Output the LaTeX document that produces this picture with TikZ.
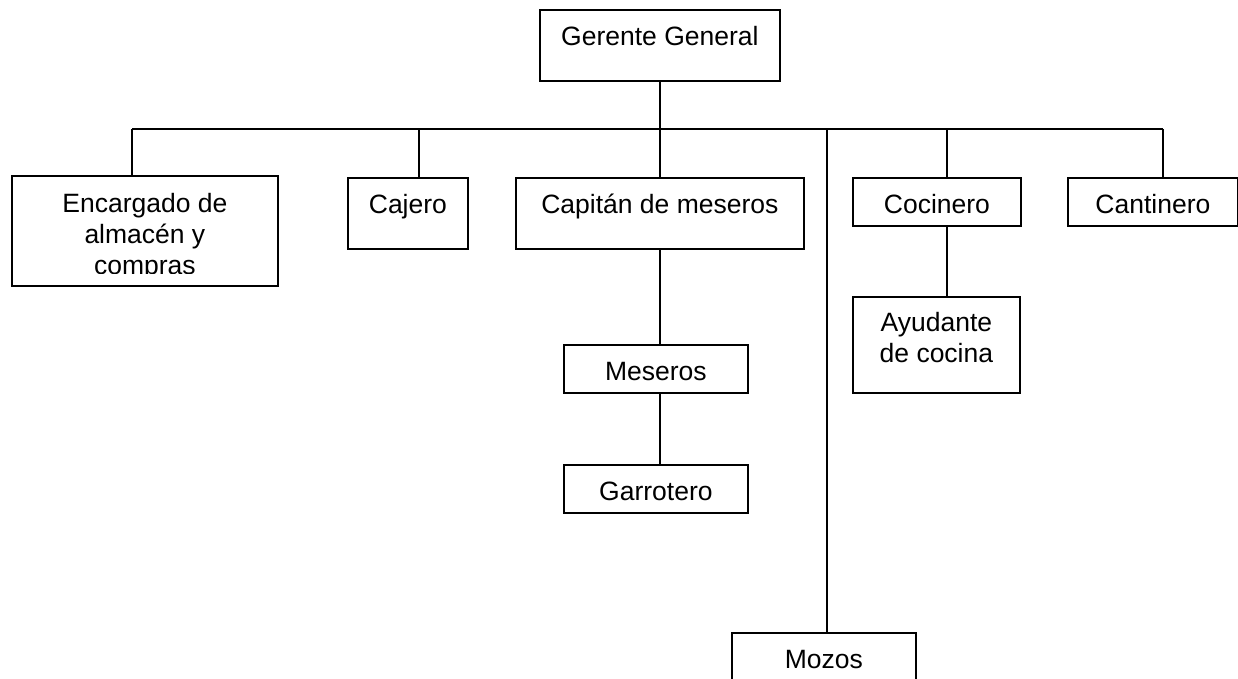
\documentclass[tikz,border=0pt]{standalone}
\usepackage{fontspec}
\setmainfont{Liberation Sans}
\usepackage{tikz}
\usetikzlibrary{positioning,calc}

\begin{document}
\begin{tikzpicture}[x=1pt, y=-1pt,
    puesto/.style={draw, line width=1.8pt, inner sep=0pt, anchor=north west, align=center,
        font=\fontsize{26.5}{31}\selectfont, text height=36pt},
    enlace/.style={line width=1.8pt}]
    \useasboundingbox (0,0) rectangle (1238,679);
    % cajas
    \node[puesto, minimum width=240pt, text depth=35pt] (gerente) at (539,9) {Gerente General};
    \begin{scope}
        \clip (0,0) rectangle (1238,273);
        \node[puesto, draw=none, minimum width=264pt, text height=98pt, text depth=10pt] (encargado) at (12,176) {Encargado de\\almacén y\\compras};
    \end{scope}
    \draw[enlace] (encargado.north west) rectangle (encargado.south east);
    \node[puesto, minimum width=120pt, text depth=35pt] (cajero) at (347,177) {Cajero};
    \node[puesto, minimum width=288pt, text depth=35pt] (capitan) at (515,177) {Capitán de meseros};
    \node[puesto, minimum width=168pt, text depth=12pt] (cocinero) at (852,177) {Cocinero};
    \node[puesto, minimum width=170pt, text depth=12pt] (cantinero) at (1067,177) {Cantinero};
    \node[puesto, minimum width=184pt, text depth=12pt] (meseros) at (563,344) {Meseros};
    \node[puesto, minimum width=184pt, text depth=12pt] (garrotero) at (563,464) {Garrotero};
    \node[puesto, minimum width=167pt, text height=66pt, text depth=30pt] (ayudante) at (852,296) {Ayudante\\de cocina};
    \node[puesto, minimum width=184pt, text depth=35pt] (mozos) at (731,632) {Mozos};
    % barra
    \coordinate (bEnc) at (132,129);
    \coordinate (bCaj) at (419,129);
    \coordinate (bMoz) at (827,129);
    \coordinate (bCoc) at (947,129);
    \coordinate (bCan) at (1163,129);
    \draw[enlace] (bEnc) -- (bCan);
    \draw[enlace] (gerente.south) -- (capitan.north);
    \draw[enlace] (bEnc) -- (bEnc |- encargado.north);
    \draw[enlace] (bCaj) -- (bCaj |- cajero.north);
    \draw[enlace] (bMoz) -- (bMoz |- mozos.north);
    \draw[enlace] (bCoc) -- (bCoc |- cocinero.north);
    \draw[enlace] (bCan) -- (bCan |- cantinero.north);
    \draw[enlace] (bCoc |- cocinero.south) -- (bCoc |- ayudante.north);
    \draw[enlace] (capitan.south) -- (capitan.south |- meseros.north);
    \draw[enlace] (capitan.south |- meseros.south) -- (capitan.south |- garrotero.north);
\end{tikzpicture}
\end{document}
